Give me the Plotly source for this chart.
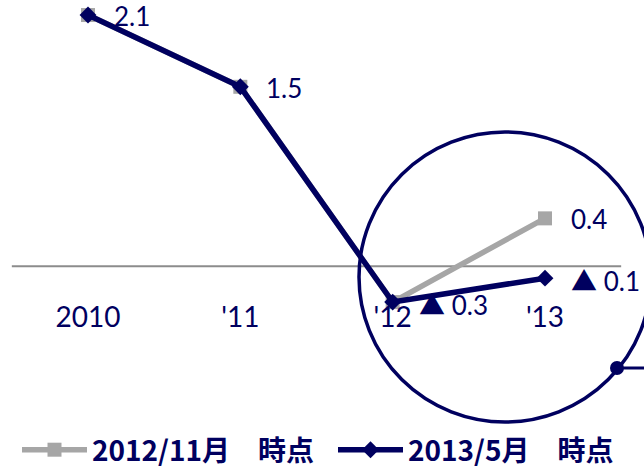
import plotly.graph_objects as go

categories = ["2010", "'11", "'12", "'13"]
series_nov2012 = [2.1, 1.5, -0.3, 0.4]
series_may2013 = [2.1, 1.5, -0.3, -0.1]
series_names = ["2012/11月　時点", "2013/5月　時点"]

NAVY = "#00005f"
GRAY = "#a6a6a6"
W, H = 644, 468

TRI = "<span style=\"font-family:'Noto Sans CJK JP'\">▲</span> "


def fmt(v):
    return (TRI if v < 0 else "") + f"{abs(v):.1f}"


fig = go.Figure()
fig.add_trace(go.Scatter(
    x=categories, y=series_nov2012, name=series_names[0], mode="lines+markers",
    line=dict(color=GRAY, width=5.5), marker=dict(symbol="square", size=14, color=GRAY)))
fig.add_trace(go.Scatter(
    x=categories, y=series_may2013, name=series_names[1], mode="lines+markers",
    line=dict(color=NAVY, width=5.5), marker=dict(symbol="diamond", size=13, color=NAVY)))

lab_font = dict(family="Lato", size=26, color=NAVY)
ann = []
for i in range(len(categories)):
    ann.append(dict(x=i, y=series_may2013[i], text=fmt(series_may2013[i]), showarrow=False,
                    xanchor="left", yanchor="middle", xshift=24, yshift=-1, font=lab_font))
    if series_nov2012[i] != series_may2013[i]:
        ann.append(dict(x=i, y=series_nov2012[i], text=fmt(series_nov2012[i]), showarrow=False,
                        xanchor="left", yanchor="middle", xshift=24, yshift=-1, font=lab_font))


def px(x):
    return x / W


def py(y):
    return 1 - y / H


cx, cy, rx, ry = 505, 277, 146, 145
dx, dy, dr = 617, 368, 7
shapes = [
    dict(type="line", xref="x", yref="y", x0=-0.5, x1=3.5, y0=0, y1=0,
         line=dict(color="#8c8c8c", width=2), layer="below"),
    dict(type="circle", xref="paper", yref="paper",
         x0=px(cx - rx), x1=px(cx + rx), y0=py(cy + ry), y1=py(cy - ry),
         line=dict(color=NAVY, width=3.5)),
    dict(type="line", xref="paper", yref="paper", x0=px(dx), x1=1.0,
         y0=py(dy), y1=py(dy), line=dict(color=NAVY, width=3)),
    dict(type="circle", xref="paper", yref="paper",
         x0=px(dx - dr), x1=px(dx + dr), y0=py(dy + dr), y1=py(dy - dr),
         fillcolor=NAVY, line=dict(color=NAVY, width=0)),
]

px_per_cat = (545 - 88) / 3
px_per_unit = 119.6
x0_px = 88
zero_px = 266.2

fig.update_layout(
    width=W, height=H, margin=dict(l=0, r=0, t=0, b=0, autoexpand=False),
    plot_bgcolor="white", paper_bgcolor="white",
    xaxis=dict(type="category", range=[-x0_px / px_per_cat, (W - x0_px) / px_per_cat],
               showgrid=False, zeroline=False, showline=False, ticks="",
               anchor="free", position=1 - 298 / H,
               tickfont=dict(family="Lato", size=28, color=NAVY)),
    yaxis=dict(visible=False,
               range=[-(H - zero_px) / px_per_unit, zero_px / px_per_unit]),
    showlegend=True,
    legend=dict(orientation="h", x=px(17), xanchor="left", y=py(450), yanchor="middle",
                bgcolor="rgba(0,0,0,0)", entrywidth=236, itemwidth=65,
                font=dict(family="Noto Sans CJK JP", size=28, color=NAVY, weight="bold")),
    annotations=ann, shapes=shapes,
)

fig.write_html("out.html", config={"displayModeBar": False},
               post_script="document.body.style.margin='0';document.body.style.overflow='hidden';")
